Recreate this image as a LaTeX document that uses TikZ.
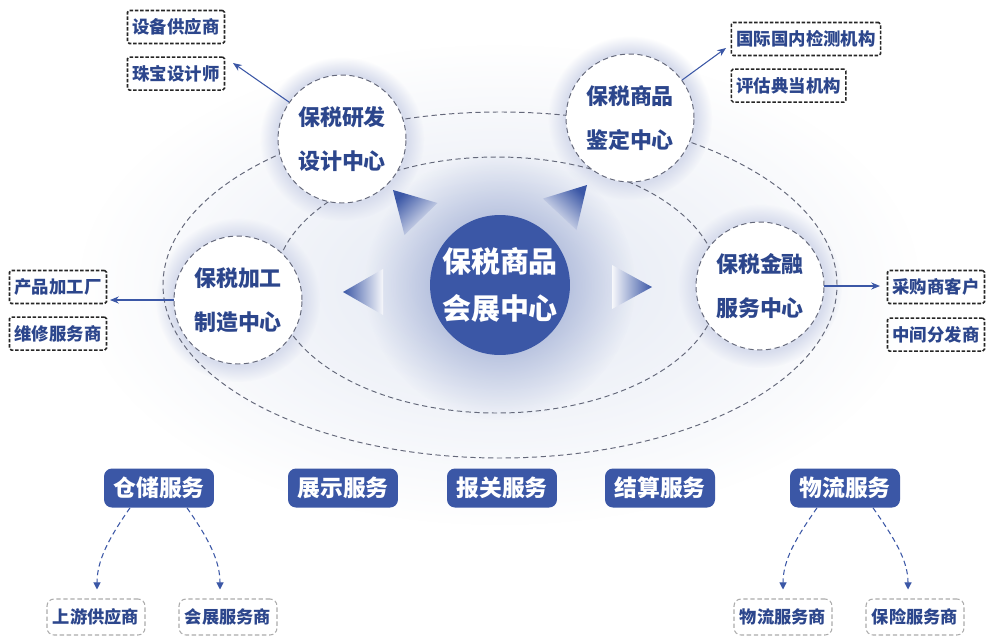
\documentclass[tikz,border=0pt]{standalone}
\usepackage{fontspec}
\setmainfont{Noto Sans CJK SC}
\usetikzlibrary{calc}
\usetikzlibrary{positioning}
\usetikzlibrary{arrows.meta}
\usetikzlibrary{fadings}
\usetikzlibrary{backgrounds}
\definecolor{hubblue}{RGB}{59,87,166}
\definecolor{inkblue}{RGB}{44,70,140}
\definecolor{ringgray}{RGB}{100,104,122}
\tikzfading[name=softglow, inner color=transparent!0, outer color=transparent!100]
\tikzset{x=0.02cm, y=0.02cm, % one unit is one pixel of the sketch
  every node/.style={align=center, font=\bfseries},
  ring/.style={draw=ringgray, densely dashed, line width=0.55pt},
  centre/.style={circle, fill=hubblue, text=white, minimum size=2.8cm, inner sep=0pt,
    font=\bfseries\fontsize{16.5}{27}\selectfont},
  satellite/.style={circle, ring, fill=white, text=inkblue, minimum size=2.56cm,
    inner sep=0pt, font=\bfseries\fontsize{12.5}{25}\selectfont},
  partner/.style={draw=black!85, dash pattern=on 2pt off 1pt, line width=0.9pt,
    rounded corners=1pt, inner xsep=0.1cm, minimum height=0.66cm, text=inkblue,
    font=\bfseries\fontsize{9.9}{12}\selectfont},
  service/.style={fill=hubblue, rounded corners=0.16cm, text=white, minimum width=2.2cm,
    minimum height=0.78cm, font=\bfseries\fontsize{13}{15}\selectfont},
  leaf/.style={draw=gray!65, dash pattern=on 2.5pt off 1.5pt, line width=0.6pt,
    rounded corners=0.14cm, minimum width=1.96cm, minimum height=0.72cm, text=inkblue,
    font=\bfseries\fontsize{9.8}{12}\selectfont},
  glowtip/.style={top color=hubblue!4, bottom color=hubblue},
  every edge/.style={draw, hubblue, line width=0.6pt, -{Stealth[length=5pt, width=4pt]}},
  dotlink/.style={densely dashed, -{Triangle[length=4pt, width=4pt]}, shorten >=0.18cm}}

\begin{document}
\begin{tikzpicture}
  \useasboundingbox (0,0) rectangle (986,-636);
  \coordinate (mid) at (500,-285);

  \node[centre] (hub) at (mid) {保税商品\\会展中心};
  \node[satellite] (design) at (342,-139) {保税研发\\设计中心};
  \node[satellite] (appraise) at (630,-118) {保税商品\\鉴定中心};
  \node[satellite] (process) at (238,-300) {保税加工\\制造中心};
  \node[satellite] (finance) at (760,-286) {保税金融\\服务中心};

  % haze and the two rings behind the centres
  \begin{scope}[on background layer]
    \fill[white] (0,0) rectangle (986,-636);
    \fill[hubblue!14, path fading=softglow] (mid) ellipse [x radius=420, y radius=240];
    \fill[hubblue!60, path fading=softglow] (mid) circle [radius=135];
    \foreach \c in {design, appraise, process, finance}
      \fill[hubblue!20, path fading=circle with fuzzy edge 20 percent] (\c) circle [radius=82];
    \draw[ring] (mid) ellipse [x radius=337, y radius=173];
    \draw[ring] (497,-285) ellipse [x radius=222, y radius=128];
  \end{scope}

  % arrows out of the hub
  \shade[glowtip, shading angle=270] (343,-292) -- (383,-269) -- (383,-315) -- cycle;
  \shade[glowtip, shading angle=90] (652,-287) -- (612,-265) -- (612,-309) -- cycle;
  \shade[glowtip, shading angle=224] (393,-190) -- (437.5,-203) -- (404.5,-235) -- cycle;
  \shade[glowtip, shading angle=137] (587,-185) -- (542.9,-198.6) -- (576.5,-230) -- cycle;

  \node[partner] (equip) at (176,-27) {设备供应商};
  \node[partner, below=0.24cm of equip] (jewel) {珠宝设计师};
  \node[partner] (inspect) at (806,-39) {国际国内检测机构};
  \node[partner, below right=0.24cm and 0cm of inspect.south west] (pawn) {评估典当机构};
  \node[partner] (factory) at (58,-287) {产品加工厂};
  \node[partner, below=0.24cm of factory] (repair) {维修服务商};
  \node[partner] (buyer) at (936,-287) {采购商客户};
  \node[partner, below=0.26cm of buyer] (dealer) {中间分发商};

  \coordinate (toequip) at (233,-63);
  \coordinate (toinspect) at (726,-48);
  \coordinate (tofactory) at (110,-300);
  \coordinate (tobuyer) at (880,-286);
  \draw (design) edge (toequip);
  \draw (appraise) edge (toinspect);
  \draw (process) edge (tofactory);
  \draw (finance) edge (tobuyer);

  \node[service] (storage) at (159,-488) {仓储服务};
  \node[service] (display) at (343,-488) {展示服务};
  \node[service] (customs) at (502,-488) {报关服务};
  \node[service] (settle) at (660,-488) {结算服务};
  \node[service] (logistics) at (845,-488) {物流服务};

  \node[leaf] (upstream) at (96,-617) {上游供应商};
  \node[leaf] (fairsvc) at (228,-617) {会展服务商};
  \node[leaf] (carrier) at (783,-617) {物流服务商};
  \node[leaf] (insurer) at (915,-617) {保险服务商};

  \draw ([xshift=-0.58cm]storage.south) edge[dotlink, out=235, in=90] ([xshift=0.02cm]upstream.north);
  \draw ([xshift=0.56cm]storage.south) edge[dotlink, out=-55, in=90] ([xshift=-0.16cm]fairsvc.north);
  \draw ([xshift=-0.56cm]logistics.south) edge[dotlink, out=235, in=90] (carrier.north);
  \draw ([xshift=0.56cm]logistics.south) edge[dotlink, out=-55, in=90] ([xshift=-0.14cm]insurer.north);
\end{tikzpicture}
\end{document}
